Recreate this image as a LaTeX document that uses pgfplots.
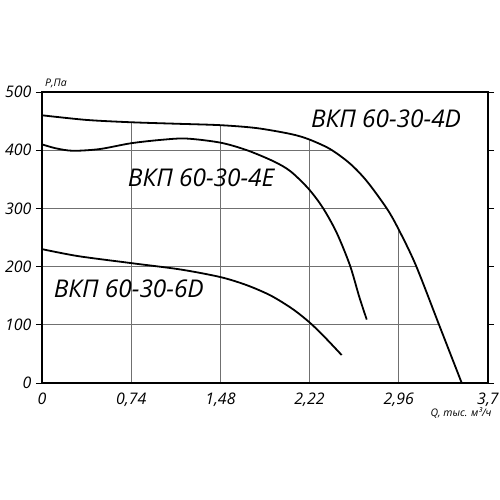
\documentclass[border=0pt]{standalone}
\usepackage{fontspec}
\setmainfont{Open Sans}
\usepackage{pgfplots}
\pgfplotsset{compat=1.18}
\usepackage{pgfplotstable}
\usepgfplotslibrary{fillbetween}

% grid is only visible below the 4D curve: white mask on its own layer
\pgfplotsset{
  layers/masked/.define layer set={axis background,axis grid,mask,axis ticks,axis lines,axis tick labels,pre main,main,axis descriptions,axis foreground}{/pgfplots/layers/standard},
}

\pgfplotstableread{
Q     P
0     460
0.37  452
0.74  448
1.11  445.5
1.48  443
1.78  438
2.06  428
2.21  419
2.39  402
2.555 377
2.694 347
2.86  300
2.956 265
3.10  203
3.294 100
3.482 0
}\dataD

\pgfplotstableread{
Q     P
0     410
0.12  403
0.26  399
0.48  402
0.74  412
1.00  418
1.20  420
1.48  413
1.70  400
1.92  381
2.06  364
2.21  334
2.33  301
2.445 258
2.555 202
2.632 148
2.694 109
}\dataE

\pgfplotstableread{
Q     P
0     230
0.30  218
0.74  206
1.15  195
1.48  182
1.70  168
1.90  150
2.08  127
2.22  104
2.34  80
2.486 48
}\dataSix

\definecolor{gridgray}{HTML}{707070}

\begin{document}
\begin{tikzpicture}
\begin{axis}[
  set layers=masked,
  scale only axis,
  width=446bp, height=291bp,
  xmin=0, xmax=3.7, ymin=0, ymax=500,
  xtick={0,0.74,1.48,2.22,2.96,3.7},
  ytick={0,100,200,300,400,500},
  grid=major,
  major grid style={gridgray, line width=0.8pt},
  axis line style={black, line width=1.6pt},
  tick align=outside,
  major tick length=6bp,
  xtick style={draw=none},
  ytick style={black, line width=1pt},
  /pgf/number format/use comma,
  /pgf/number format/assume math mode=true,
  ticklabel style={font=\itshape\fontsize{16}{16}\selectfont},
  xticklabel style={yshift=-0.5bp},
  yticklabel style={xshift=-1bp},
  clip=false,
]
\addplot[draw=none, name path=dcurve, smooth, forget plot] table[x=Q, y=P] {\dataD};
\addplot[draw=none, name path=topedge, forget plot] coordinates {(0,500) (3.7,500) (3.7,0)};
\addplot[fill=white, draw=none] fill between[of=dcurve and topedge, on layer=mask];

\addplot[black, line width=1.8bp, smooth] table[x=Q, y=P] {\dataD};
\addplot[black, line width=1.8bp, smooth] table[x=Q, y=P] {\dataE};
\addplot[black, line width=1.8bp, smooth] table[x=Q, y=P] {\dataSix};

\node[anchor=base, font=\itshape\fontsize{24.5}{24.5}\selectfont] at (axis cs:2.854,439) {ВКП 60-30-4D};
\node[anchor=base, font=\itshape\fontsize{24.5}{24.5}\selectfont] at (axis cs:1.32,337) {ВКП 60-30-4E};
\node[anchor=base, font=\itshape\fontsize{24.5}{24.5}\selectfont] at (axis cs:0.72,146.6) {ВКП 60-30-6D};

\node[anchor=base west, inner sep=0pt, font=\itshape\fontsize{10.5}{10.5}\selectfont] at (axis cs:0.025,500) [yshift=6bp] {Р,Па};
\node[anchor=base east, inner sep=0pt, font=\itshape\fontsize{10.5}{10.5}\selectfont] at (axis cs:3.7,0) [xshift=3.7bp, yshift=-33.5bp] {Q, тыс. м³/ч};
\end{axis}
\pgfresetboundingbox
\useasboundingbox (-42bp,-117bp) rectangle (458bp,383bp);
\end{tikzpicture}
\end{document}
